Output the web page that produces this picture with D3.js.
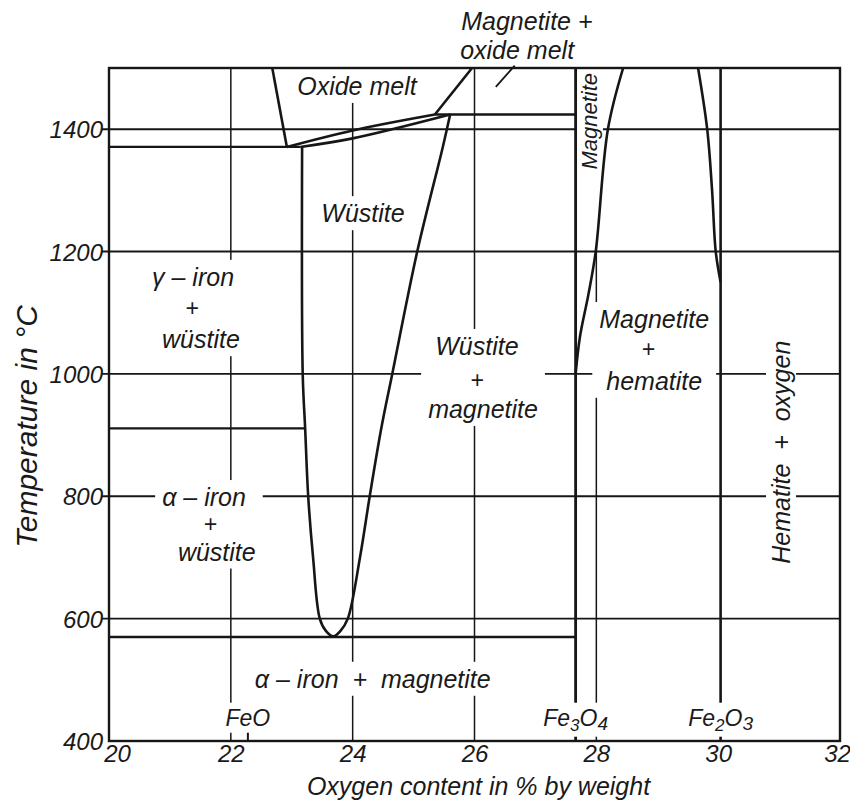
<!DOCTYPE html>
<html><head><meta charset="utf-8">
<script src="https://cdn.jsdelivr.net/npm/d3@7/dist/d3.min.js"></script>
<style>
html,body{margin:0;padding:0;background:#fff;}
svg text{font-family:"Liberation Sans",Arimo,Arial,sans-serif;font-style:italic;fill:#1a1a1a;white-space:pre;}
</style></head><body>
<svg id="chart" width="850" height="807"></svg>
<script>
// ---------- data (oxygen wt% , temperature °C) ----------
const xDomain = [20, 32];
const yDomain = [400, 1500];
const xTicks = [20, 22, 24, 26, 28, 30, 32];
const xTickLabels = ["20", "22", "24", "26", "28", "30", "32"];
const yTicks = [400, 600, 800, 1000, 1200, 1400];
const yTickLabels = ["400", "600", "800", "1000", "1200", "1400"];
const gridX = [22, 24, 26, 28];
const gridY = [600, 800, 1000, 1200, 1400];

const FEO = 22.28, FE3O4 = 27.66, FE2O3 = 30.04;

// isotherms: temperature, from %O, to %O
const isoTemps = [570, 911, 1371, 1424];
const isoFrom  = [20, 20, 20, 25.35];
const isoTo    = [FE3O4, 23.22, 23.14, FE3O4];

// phase boundaries
const liquidusLeft      = [[22.68, 1500], [22.92, 1371]];
const liquidusWustite   = [[22.92, 1371], [24.0, 1398], [25.35, 1424]];
const solidusWustite    = [[23.14, 1371], [24.0, 1385], [25.60, 1424]];
const liquidusMagnetite = [[25.35, 1424], [25.96, 1500]];
const wustiteField = [
  [23.17, 1371], [23.18, 1000], [23.22, 911], [23.27, 800], [23.35, 700],
  [23.46, 600], [23.56, 580], [23.68, 571], [23.80, 580], [23.92, 600],
  [24.12, 700], [24.28, 800], [24.47, 911], [24.65, 1000], [25.06, 1200],
  [25.48, 1371], [25.60, 1424]
];
const magnetiteBoundary = [[FE3O4, 1000], [27.73, 1060], [27.87, 1130], [27.99, 1200], [28.19, 1400], [28.44, 1500]];
const hematiteBoundary  = [[29.67, 1500], [29.82, 1400], [29.90, 1300], [29.96, 1200], [FE2O3, 1150]];
const leaderLine = [[26.66, 1504], [26.35, 1469]];

// labels
const regionTexts = [
  ["Magnetite +", "oxide melt"],
  ["Oxide melt"],
  ["Wüstite"],
  ["γ – iron", "+", "wüstite"],
  ["Wüstite", "+", "magnetite"],
  ["Magnetite", "+", "hematite"],
  ["α – iron", "+", "wüstite"],
  ["α – iron  +  magnetite"]
];
const rotatedTexts = [["Magnetite"], ["Hematite  +  oxygen"]];
const compoundNames = [["Fe", "", "O", ""], ["Fe", "3", "O", "4"], ["Fe", "2", "O", "3"]];
const compoundValues = [FEO, FE3O4, FE2O3];
const xTitle = "Oxygen content in % by weight";
const yTitle = "Temperature in °C";

// ---------- layout (anchors in data units) ----------
const regionLayout = [
  {anchors: [[26.86, 1562], [26.70, 1515]], bg: false},
  {anchors: [[24.07, 1456]], bg: true},
  {anchors: [[24.17, 1248]], bg: true},
  {anchors: [[21.38, 1144], [21.36, 1095], [21.51, 1042]], bg: true},
  {anchors: [[26.04, 1031], [26.04, 977], [26.14, 928]], bg: true},
  {anchors: [[28.95, 1075], [28.85, 1028], [28.95, 974]], bg: true},
  {anchors: [[21.56, 784], [21.66, 741], [21.77, 695]], bg: true},
  {anchors: [[24.33, 487]], bg: true}
];
const rotatedLayout = [
  {anchor: [28.01, 1413], size: 22},
  {anchor: [31.18, 872], size: 25}
];

const W = 850, H = 807;
const x = d3.scaleLinear().domain(xDomain).range([109, 840]);
const y = d3.scaleLinear().domain(yDomain).range([741, 68]);
const svg = d3.select("#chart");
const INK = "#161616";

const gGrid = svg.append("g");
const gBg = svg.append("g");
const gIso = svg.append("g");
const gBg2 = svg.append("g");
const gCurve = svg.append("g");
const gText = svg.append("g");

// gridlines
const mag28 = (() => { // temperature where magnetite boundary crosses 28 %
  for (let i = 1; i < magnetiteBoundary.length; i++) {
    const [a, ta] = magnetiteBoundary[i - 1], [b, tb] = magnetiteBoundary[i];
    if (a <= 28 && b >= 28) return ta + (28 - a) / (b - a) * (tb - ta);
  }
  return 1500;
})();
gGrid.selectAll("line.gx").data(gridX).join("line")
  .attr("x1", d => x(d)).attr("x2", d => x(d))
  .attr("y1", y(400)).attr("y2", d => d === 28 ? y(mag28) : y(1500))
  .attr("stroke", INK).attr("stroke-width", 1.5);
gGrid.selectAll("line.gy").data(gridY).join("line")
  .attr("x1", x(20) - 7).attr("x2", x(32))
  .attr("y1", d => y(d)).attr("y2", d => y(d))
  .attr("stroke", INK).attr("stroke-width", 1.9);

// axis tick labels
const yAxis = d3.axisLeft(y).tickValues(yTicks).tickFormat((d, i) => yTickLabels[i]).tickSize(0).tickPadding(6);
const ga = svg.append("g").attr("transform", `translate(${x(20)},0)`).call(yAxis);
ga.select(".domain").remove();
ga.selectAll("text").attr("font-size", 24).attr("font-family", null).attr("fill", INK).attr("dy", "0.36em");
const xAxis = d3.axisBottom(x).tickValues(xTicks).tickFormat((d, i) => xTickLabels[i]).tickSize(0).tickPadding(4);
const gx = svg.append("g").attr("transform", `translate(0,${y(400)})`).call(xAxis);
gx.select(".domain").remove();
gx.selectAll("text").attr("font-size", 24).attr("font-family", null).attr("fill", INK)
  .attr("dx", d => d === 20 ? 8 : (d === 32 ? -3 : 0));

// isotherms
gIso.selectAll("line").data(isoTemps).join("line")
  .attr("x1", (d, i) => x(isoFrom[i])).attr("x2", (d, i) => x(isoTo[i]))
  .attr("y1", d => y(d)).attr("y2", d => y(d))
  .attr("stroke", INK).attr("stroke-width", 2.3);
// composition lines
gIso.append("line").attr("x1", x(FE3O4)).attr("x2", x(FE3O4)).attr("y1", y(400)).attr("y2", y(1500))
  .attr("stroke", INK).attr("stroke-width", 2.8);
gIso.append("line").attr("x1", x(FE2O3)).attr("x2", x(FE2O3)).attr("y1", y(400)).attr("y2", y(1500))
  .attr("stroke", INK).attr("stroke-width", 2.6);
gIso.append("line").attr("x1", x(FEO)).attr("x2", x(FEO)).attr("y1", y(400)).attr("y2", y(428))
  .attr("stroke", INK).attr("stroke-width", 2);

// region labels with white backgrounds
function bgRect(layer, node, px, py, transform) {
  const b = node.getBBox();
  layer.append("rect").attr("x", b.x - px).attr("y", b.y - py)
    .attr("width", b.width + 2 * px).attr("height", b.height + 2 * py)
    .attr("fill", "#fff").attr("transform", transform || null);
}
regionTexts.forEach((lines, gi) => {
  const lay = regionLayout[gi];
  const g = gText.append("g");
  lines.forEach((t, li) => {
    g.append("text").attr("x", x(lay.anchors[li][0])).attr("y", y(lay.anchors[li][1]))
      .attr("text-anchor", "middle").attr("font-size", t === "+" ? 23 : 25).text(t);
  });
  if (lay.bg) bgRect(gBg, g.node(), 7, 3);
});
rotatedTexts.forEach((lines, gi) => {
  const lay = rotatedLayout[gi];
  const tr = `translate(${x(lay.anchor[0])},${y(lay.anchor[1])}) rotate(-90)`;
  const g = gText.append("g").attr("transform", tr);
  g.append("text").attr("text-anchor", "middle").attr("font-size", lay.size).text(lines[0]);
  bgRect(gBg, g.node(), 4, 1, tr);
});
// compound labels
compoundNames.forEach((parts, i) => {
  const t = gText.append("text").attr("x", x(compoundValues[i])).attr("y", y(425))
    .attr("text-anchor", "middle").attr("font-size", 23);
  t.append("tspan").text(parts[0]);
  if (parts[1]) t.append("tspan").attr("dy", 5).attr("font-size", 17).text(parts[1]);
  t.append("tspan").attr("dy", parts[1] ? -5 : 0).text(parts[2]);
  if (parts[3]) t.append("tspan").attr("dy", 4).attr("font-size", 19).text(parts[3]);
  bgRect(gBg2, t.node(), 1, 2);
});

// curves
const line = d3.line().x(d => x(d[0])).y(d => y(d[1]));
const smooth = d3.line().x(d => x(d[0])).y(d => y(d[1])).curve(d3.curveCatmullRom.alpha(0.5));
[liquidusLeft, liquidusMagnetite, leaderLine].forEach(p =>
  gCurve.append("path").attr("d", line(p)).attr("fill", "none").attr("stroke", INK)
    .attr("stroke-width", p === leaderLine ? 1.8 : 2.6));
[liquidusWustite, solidusWustite, wustiteField, magnetiteBoundary, hematiteBoundary].forEach(p =>
  gCurve.append("path").attr("d", smooth(p)).attr("fill", "none").attr("stroke", INK)
    .attr("stroke-width", 2.6).attr("stroke-linejoin", "round"));

// frame
gCurve.append("rect").attr("x", x(20)).attr("y", y(1500)).attr("width", x(32) - x(20)).attr("height", y(400) - y(1500))
  .attr("fill", "none").attr("stroke", INK).attr("stroke-width", 2.4);

// axis titles
svg.append("text").attr("x", (x(20) + x(32)) / 2 + 4).attr("y", 795).attr("text-anchor", "middle")
  .attr("font-size", 25).text(xTitle);
svg.append("text").attr("transform", `translate(37,${(y(400) + y(1500)) / 2 + 22}) rotate(-90)`)
  .attr("text-anchor", "middle").attr("font-size", 30).text(yTitle);
</script>
</body></html>
